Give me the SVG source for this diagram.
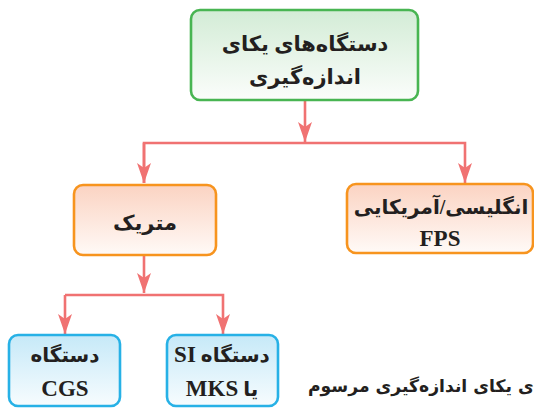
<svg xmlns="http://www.w3.org/2000/svg" width="534" height="408" viewBox="0 0 534 408">
<defs>
<linearGradient id="gG" x1="0" y1="0" x2="0" y2="1"><stop offset="0" stop-color="#d3ecd6"/><stop offset="1" stop-color="#fbfdfb"/></linearGradient>
<linearGradient id="gO" x1="0" y1="0" x2="0" y2="1"><stop offset="0" stop-color="#fbd3c2"/><stop offset="1" stop-color="#fffaf7"/></linearGradient>
<linearGradient id="gB" x1="0" y1="0" x2="0" y2="1"><stop offset="0" stop-color="#c6e9f8"/><stop offset="1" stop-color="#f7fcfe"/></linearGradient>
<marker id="ah" markerUnits="userSpaceOnUse" orient="auto" refX="0" refY="0" markerWidth="30" markerHeight="30" overflow="visible">
<path d="M0,0 L-20,-7 L-15,0 L-20,7 Z" fill="#f07272"/>
</marker>
<style>
.box{stroke-width:2.6}
.g{fill:url(#gG);stroke:#48b552}
.o{fill:url(#gO);stroke:#f7941e}
.b{fill:url(#gB);stroke:#27b1e6}
.t{font-family:"Liberation Serif","DejaVu Sans",serif;font-weight:bold;fill:#231f20;text-anchor:middle}
.L{font-size:23px}
.c{fill:none;stroke:#f07272;stroke-width:2.6}
</style>
</defs>
<g id="connectors">
<line class="c" x1="305" y1="100" x2="305" y2="142" marker-end="url(#ah)"/>
<polyline class="c" points="144,183 144,143 465,143 465,183" marker-end="url(#ah)"/>
<line class="c" x1="144" y1="143" x2="144" y2="183" marker-end="url(#ah)"/>
<line class="c" x1="144" y1="255" x2="144" y2="293" marker-end="url(#ah)"/>
<polyline class="c" points="65,295 223,295 223,334" marker-end="url(#ah)"/>
<line class="c" x1="65" y1="295" x2="65" y2="334" marker-end="url(#ah)"/>
</g>
<g id="n-root">
<rect class="box g" x="191" y="10" width="227" height="90" rx="9"/>
<text class="t" x="305" y="51" font-size="21" direction="rtl">دستگاه‌های یکای</text>
<text class="t" x="305" y="84" font-size="21" direction="rtl">اندازه‌گیری</text>
</g>
<g id="n-metric">
<rect class="box o" x="74" y="185" width="142" height="70" rx="9"/>
<text class="t" x="145" y="230" font-size="21" direction="rtl">متریک</text>
</g>
<g id="n-fps">
<rect class="box o" x="347" y="184" width="186" height="69" rx="9"/>
<text class="t" x="441" y="214" font-size="20" direction="rtl">انگلیسی/آمریکایی</text>
<text class="t L" x="440" y="246" direction="rtl">FPS</text>
</g>
<g id="n-cgs">
<rect class="box b" x="9" y="335" width="111" height="71" rx="9"/>
<text class="t" x="65" y="362" font-size="20" direction="rtl">دستگاه</text>
<text class="t L" x="65" y="396" direction="rtl">CGS</text>
</g>
<g id="n-si">
<rect class="box b" x="167" y="335" width="111" height="71" rx="9"/>
<text class="t" x="222" y="362" font-size="20" direction="rtl">دستگاه <tspan class="L">SI</tspan></text>
<text class="t" x="222" y="396" font-size="20" direction="rtl">یا <tspan class="L">MKS</tspan></text>
</g>
<text x="308" y="392" font-family="'DejaVu Sans',sans-serif" font-weight="bold" font-size="17.2" fill="#231f20">ی یکای اندازه‌گیری مرسوم</text>
</svg>
